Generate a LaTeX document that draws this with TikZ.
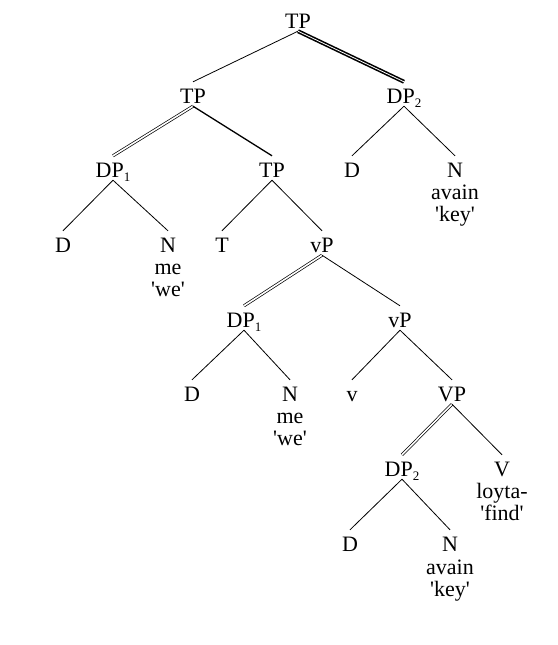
\documentclass[tikz,border=0pt]{standalone}
\usepackage{fontspec}
\setmainfont{Liberation Serif}[Ligatures=TeXOff]
\newcommand\mysub[1]{\raisebox{-4pt}{\fontsize{13}{13}\selectfont #1}}
\begin{document}
\begin{tikzpicture}[x=1pt,y=-1pt,
  lab/.style={anchor=base,inner sep=0pt,text height=21pt,text depth=3pt,font=\fontsize{22}{22}\selectfont},
  gloss/.style={anchor=base,inner sep=0pt,font=\fontsize{22}{22}\selectfont},
  br/.style={line width=0.8pt},
  brthick/.style={line width=1.3pt},
  dbl/.style={double,line width=0.7pt,double distance=1.6pt},
  heavy/.style={double,line width=1.6pt,double distance=0.8pt}]
\useasboundingbox (0,0) rectangle (557,645);
\node[lab] (tp0) at (298,28) {TP};
\node[lab] (tp1) at (193,103) {TP};
\node[lab] (dp2a) at (404,103) {DP\mysub{2}};
\node[lab] (dp1a) at (113,177) {DP\mysub{1}};
\node[lab] (tp2) at (272,177) {TP};
\node[lab] (da) at (352,177) {D};
\node[lab] (na) at (455,177) {N};
\node[gloss] (na1) at (455,199) {avain};
\node[gloss] (na2) at (455,221) {'key'};
\node[lab] (db) at (63,252) {D};
\node[lab] (nb) at (168,252) {N};
\node[gloss] (nb1) at (168,274) {me};
\node[gloss] (nb2) at (168,296) {'we'};
\node[lab] (t) at (222,252) {T};
\node[lab] (vp1) at (322,252) {vP};
\node[lab] (dp1b) at (244,327) {DP\mysub{1}};
\node[lab] (vp2) at (400,327) {vP};
\node[lab] (dc) at (192,401) {D};
\node[lab] (nc) at (290,401) {N};
\node[gloss] (nc1) at (290,423) {me};
\node[gloss] (nc2) at (290,445) {'we'};
\node[lab] (v) at (352,401) {v};
\node[lab] (vp) at (452,401) {VP};
\node[lab] (dp2b) at (402,476) {DP\mysub{2}};
\node[lab] (vv) at (502,476) {V};
\node[gloss] (vv1) at (502,498) {loyta-};
\node[gloss] (vv2) at (502,520) {'find'};
\node[lab] (dd) at (350,551) {D};
\node[lab] (nd) at (450,551) {N};
\node[gloss] (nd1) at (450,574) {avain};
\node[gloss] (nd2) at (450,596) {'key'};
\draw[br] (tp0.south) -- (tp1.north);
\draw[heavy] (tp0.south) -- (dp2a.north);
\draw[dbl] (tp1.south) -- (dp1a.north);
\draw[brthick] (tp1.south) -- (tp2.north);
\draw[br] (dp2a.south) -- (da.north);
\draw[br] (dp2a.south) -- (na.north);
\draw[br] (dp1a.south) -- (db.north);
\draw[br] (dp1a.south) -- (nb.north);
\draw[br] (tp2.south) -- (t.north);
\draw[br] (tp2.south) -- (vp1.north);
\draw[dbl] (vp1.south) -- (dp1b.north);
\draw[br] (vp1.south) -- (vp2.north);
\draw[br] (dp1b.south) -- (dc.north);
\draw[br] (dp1b.south) -- (nc.north);
\draw[br] (vp2.south) -- (v.north);
\draw[br] (vp2.south) -- (vp.north);
\draw[dbl] (vp.south) -- (dp2b.north);
\draw[br] (vp.south) -- (vv.north);
\draw[br] (dp2b.south) -- (dd.north);
\draw[br] (dp2b.south) -- (nd.north);
\end{tikzpicture}
\end{document}
